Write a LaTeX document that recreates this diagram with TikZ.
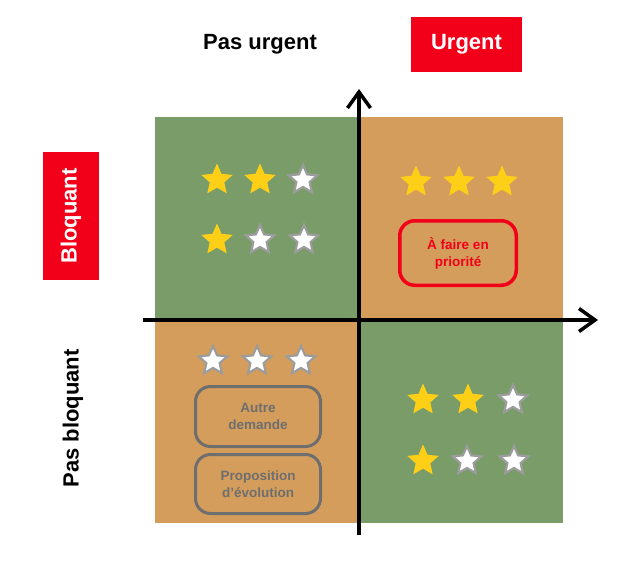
\documentclass[tikz,border=0pt]{standalone}
\usepackage{fontspec}
\setmainfont{Liberation Sans}
\usepackage{xcolor}
\usetikzlibrary{shapes.geometric,arrows.meta}

\definecolor{quadgreen}{HTML}{7A9C69}
\definecolor{quadorange}{HTML}{D49D5C}
\definecolor{tagred}{HTML}{F2001A}
\definecolor{staryellow}{HTML}{FDD017}
\definecolor{stargray}{HTML}{9C9C9C}
\definecolor{boxgray}{HTML}{6E6E6E}

\begin{document}
\begin{tikzpicture}[x=1pt, y=-1pt,
		quad/.style={inner sep=0pt, minimum width=203pt, minimum height=202pt},
		axis/.style={line width=4pt, -{Straight Barb[length=16pt, width=23pt, line width=3.5pt]}},
		fullstar/.style={star, star points=5, star point ratio=2.15, inner sep=0pt, minimum size=33pt, fill=staryellow},
		emptystar/.style={star, star points=5, star point ratio=2.15, inner sep=0pt, minimum size=30pt, fill=white, draw=stargray, line width=2.2pt},
		tag/.style={fill=tagred, text=white, inner sep=0pt, font=\bfseries\fontsize{22}{26}\selectfont},
		head/.style={font=\bfseries\fontsize{22}{26}\selectfont},
		card/.style={rounded corners=15pt, align=center, inner sep=0pt, font=\bfseries\fontsize{13.5}{17}\selectfont}]

	\useasboundingbox (0,0) rectangle (632,563);

	% quadrants
	\node[quad, fill=quadgreen] (nw) at (256.5,218) {};
	\node[quad, fill=quadorange] (ne) at (461.5,218) {};
	\node[quad, fill=quadorange] (sw) at (256.5,421.5) {};
	\node[quad, fill=quadgreen] (se) at (461.5,421.5) {};

	% axes
	\coordinate (ybot) at (359,535);
	\coordinate (ytop) at (359,89);
	\coordinate (xleft) at (143,320);
	\coordinate (xright) at (598,320);
	\draw[axis] (ybot) -- (ytop);
	\draw[axis] (xleft) -- (xright);

	% headings
	\node[head] (notur) at (260,44) {Pas urgent};
	\node[tag, minimum width=111pt, minimum height=55pt] (ur) at (466.5,44.5) {Urgent};
	\node[tag, rotate=90, minimum width=128pt, minimum height=56pt] (bl) at (71,216) {Bloquant};
	\node[head, rotate=90] (notbl) at (73,418.5) {Pas bloquant};

	% stars
	\foreach \sx/\sy/\st [count=\i] in {217/180/fullstar, 260/180/fullstar, 303/180/emptystar,
			217/240/fullstar, 260/240/emptystar, 304/240/emptystar,
			416/182/fullstar, 459/182/fullstar, 502/182/fullstar,
			213/361/emptystar, 257/361/emptystar, 301/361/emptystar,
			423/400/fullstar, 468/400/fullstar, 513/400/emptystar,
			423/461/fullstar, 467/461/emptystar, 514/461/emptystar}
		\node[\st] (star\i) at (\sx,\sy) {};

	% cards
	\node[card, draw=tagred, text=tagred, line width=3.5pt, minimum width=116.5pt, minimum height=64.5pt] (prio) at (458,253) {À faire en\\priorité};
	\node[card, draw=boxgray, text=boxgray, line width=3pt, minimum width=125pt, minimum height=60pt] (other) at (258,416.5) {Autre\\demande};
	\node[card, draw=boxgray, text=boxgray, line width=3pt, minimum width=125pt, minimum height=59pt] (evol) at (258,484) {Proposition\\d’évolution};
\end{tikzpicture}
\end{document}
